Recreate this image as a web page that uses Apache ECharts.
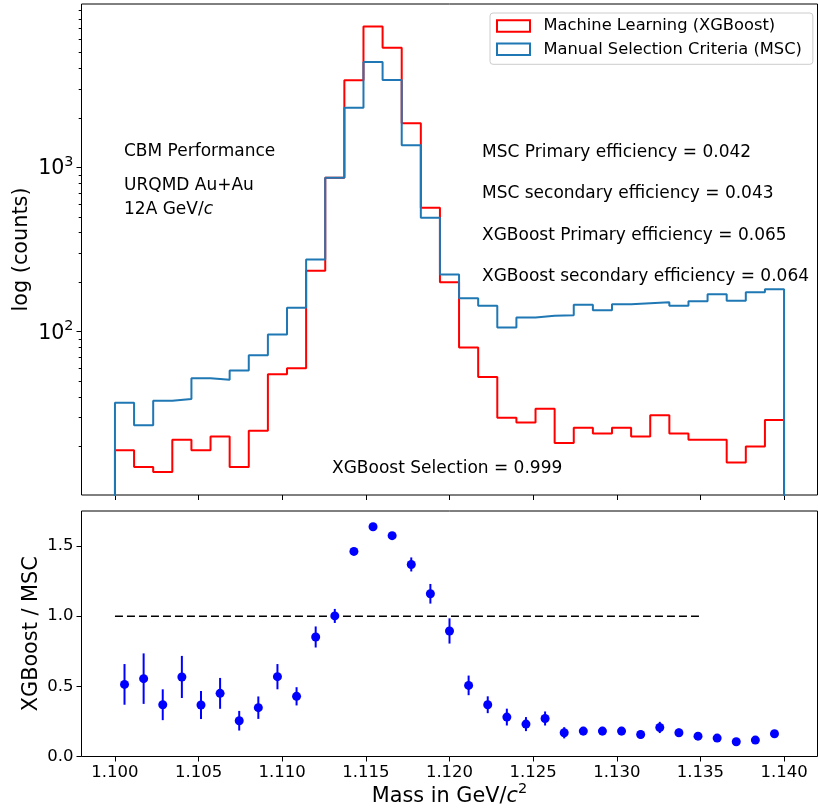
<!DOCTYPE html>
<html>
<head>
<meta charset="utf-8">
<script src="https://cdn.jsdelivr.net/npm/echarts@6/dist/echarts.min.js"></script>
<style>
  html, body { margin: 0; padding: 0; background: #fff; }
  #chart { width: 818px; height: 809px; }
</style>
</head>
<body>
<div id="chart"></div>
<script>
// histogram range and binning
const massMin = 1.100;
const massMax = 1.140;
const nBins = 35;

// counts per bin
const xgbCounts = [19, 15, 14, 22, 19, 23, 15, 25, 55, 60, 235, 864, 3388, 7180, 5345, 1854, 568, 200,
  80, 53, 30, 28, 34, 21, 26, 24, 26, 23, 31, 24, 22, 22, 16, 20, 29];
const mscCounts = [37, 27, 38, 39, 52, 51, 58, 72, 96, 140, 275, 864, 2306, 4375, 3397, 1361, 493, 223,
  160, 144, 106, 122, 125, 126, 146, 135, 147, 149, 151, 144, 153, 169, 154, 174, 181];

// ratio panel
const ratioValues = [0.514, 0.555, 0.369, 0.567, 0.367, 0.45, 0.255, 0.348, 0.569, 0.429, 0.852, 1.002,
  1.462, 1.638, 1.574, 1.369, 1.16, 0.895, 0.507, 0.369, 0.281, 0.231, 0.271, 0.169, 0.181, 0.181,
  0.181, 0.157, 0.207, 0.169, 0.145, 0.131, 0.105, 0.117, 0.162];
const ratioErrors = [0.145, 0.18, 0.11, 0.15, 0.1, 0.11, 0.07, 0.08, 0.09, 0.065, 0.075, 0.05,
  0.025, 0.012, 0.015, 0.05, 0.07, 0.09, 0.07, 0.06, 0.06, 0.05, 0.05, 0.04, 0.03, 0.03,
  0.03, 0.03, 0.04, 0.03, 0.02, 0.02, 0.015, 0.02, 0.025];
const refLine = [[1.100, 1.0], [1.135, 1.0]];

// ticks
const massTicks = [1.100, 1.105, 1.110, 1.115, 1.120, 1.125, 1.130, 1.135, 1.140];
const logMajorTicks = [100, 1000];
const logMajorExp = ['2', '3'];
const logMinorTicks = [20, 30, 40, 50, 60, 70, 80, 90, 200, 300, 400, 500, 600, 700, 800, 900,
  2000, 3000, 4000, 5000, 6000, 7000, 8000, 9000];
const ratioTicks = [0, 0.5, 1.0, 1.5];

const binW = (massMax - massMin) / nBins;

// outline of a step histogram, dropping to the floor at both ends
function stepData(counts) {
  const pts = [[massMin, 1]];
  counts.forEach((c, i) => pts.push([massMin + i * binW, c]));
  pts.push([massMax, counts[counts.length - 1]]);
  pts.push([massMax, 1]);
  return pts;
}

const ratioData = ratioValues.map((v, i) => [massMin + (i + 0.5) * binW, v, ratioErrors[i]]);

const FONT = 'DejaVu Sans';
const tickStyle = { color: '#000', width: 1 };
const txt = { font: '17px "DejaVu Sans"', fill: '#000', textVerticalAlign: 'middle', verticalAlign: 'middle' };

const chart = echarts.init(document.getElementById('chart'));

const option = {
  animation: false,
  backgroundColor: '#fff',
  textStyle: { fontFamily: FONT },
  grid: [
    { left: 81.5, width: 736, top: 4, height: 491, show: true, borderColor: '#000', borderWidth: 1 },
    { left: 81.5, width: 736, top: 511, height: 245.5, show: true, borderColor: '#000', borderWidth: 1 }
  ],
  legend: {
    orient: 'vertical',
    left: 490,
    top: 13,
    padding: [3, 11, 5, 6],
    itemGap: 3.3,
    itemWidth: 33,
    itemHeight: 11.5,
    backgroundColor: 'rgba(255,255,255,0.8)',
    borderColor: '#cccccc',
    borderWidth: 1,
    borderRadius: 3,
    textStyle: { fontFamily: FONT, fontSize: 16.3, color: '#000', lineHeight: 20, padding: [0, 0, 0, 8.5] },
    data: [
      { name: 'Machine Learning (XGBoost)', icon: 'rect',
        itemStyle: { color: 'rgba(0,0,0,0)', borderColor: '#ff0000', borderWidth: 2 } },
      { name: 'Manual Selection Criteria (MSC)', icon: 'rect',
        itemStyle: { color: 'rgba(0,0,0,0)', borderColor: '#1f77b4', borderWidth: 2 } }
    ]
  },
  xAxis: [
    {
      gridIndex: 0, type: 'value', position: 'bottom', min: 1.098, max: 1.142,
      axisLine: { show: false },
      axisTick: { customValues: massTicks, length: 5, lineStyle: tickStyle },
      axisLabel: { show: false },
      splitLine: { show: false }
    },
    {
      gridIndex: 1, type: 'value', position: 'bottom', min: 1.098, max: 1.142,
      axisLine: { show: false },
      axisTick: { customValues: massTicks, length: 5, lineStyle: tickStyle },
      axisLabel: {
        customValues: massTicks, formatter: v => v.toFixed(3),
        fontFamily: FONT, fontSize: 16.5, color: '#000', margin: 8
      },
      splitLine: { show: false },
      name: '{n|Mass in GeV/}{i|c}{s|2}',
      nameLocation: 'middle',
      nameGap: 25,
      nameMoveOverlap: false,
      nameTextStyle: {
        rich: {
          n: { fontFamily: FONT, fontSize: 20.8, color: '#000', lineHeight: 26, verticalAlign: 'bottom' },
          i: { fontFamily: FONT, fontSize: 20.8, fontStyle: 'italic', color: '#000', lineHeight: 26, verticalAlign: 'bottom' },
          s: { fontFamily: FONT, fontSize: 14.5, color: '#000', lineHeight: 26, verticalAlign: 'top' }
        }
      }
    }
  ],
  yAxis: [
    {
      gridIndex: 0, type: 'log', logBase: 10, position: 'left', offset: 0, min: 10.15, max: 9850,
      axisLine: { show: false },
      axisTick: { customValues: logMajorTicks, length: 5, lineStyle: tickStyle },
      axisLabel: {
        customValues: logMajorTicks,
        formatter: v => '{b|10}{s|' + logMajorExp[Math.round(Math.log10(v)) - 2] + '}',
        margin: 8,
        rich: {
          b: { fontFamily: FONT, fontSize: 20.6, color: '#000', lineHeight: 24, verticalAlign: 'bottom' },
          s: { fontFamily: FONT, fontSize: 14.4, color: '#000', lineHeight: 14, verticalAlign: 'top' }
        }
      },
      splitLine: { show: false },
      name: 'log (counts)',
      nameLocation: 'middle',
      nameGap: 49,
      nameMoveOverlap: false,
      nameTextStyle: { fontFamily: FONT, fontSize: 20.8, color: '#000' }
    },
    {
      gridIndex: 0, type: 'log', logBase: 10, position: 'left', offset: 0, min: 10.15, max: 9850,
      axisLine: { show: false },
      axisTick: { customValues: logMinorTicks, length: 2.8, lineStyle: tickStyle },
      axisLabel: { show: false },
      splitLine: { show: false }
    },
    {
      gridIndex: 1, type: 'value', position: 'left', min: 0, max: 1.75,
      axisLine: { show: false },
      axisTick: { customValues: ratioTicks, length: 5, lineStyle: tickStyle },
      axisLabel: {
        customValues: ratioTicks, formatter: v => v.toFixed(1),
        fontFamily: FONT, fontSize: 16.5, color: '#000', margin: 8
      },
      splitLine: { show: false },
      name: 'XGBoost / MSC',
      nameLocation: 'middle',
      nameGap: 39,
      nameMoveOverlap: false,
      nameTextStyle: { fontFamily: FONT, fontSize: 20.8, color: '#000' }
    }
  ],
  series: [
    {
      name: 'Machine Learning (XGBoost)',
      type: 'line', step: 'end', xAxisIndex: 0, yAxisIndex: 0,
      data: stepData(xgbCounts),
      symbol: 'none', showSymbol: false,
      lineStyle: { color: '#ff0000', width: 2 },
      itemStyle: { color: '#ff0000' },
      z: 2
    },
    {
      name: 'Manual Selection Criteria (MSC)',
      type: 'line', step: 'end', xAxisIndex: 0, yAxisIndex: 0,
      data: stepData(mscCounts),
      symbol: 'none', showSymbol: false,
      lineStyle: { color: '#1f77b4', width: 2 },
      itemStyle: { color: '#1f77b4' },
      z: 3
    },
    {
      type: 'line', xAxisIndex: 1, yAxisIndex: 2,
      data: refLine,
      symbol: 'none', showSymbol: false,
      lineStyle: { color: '#000', width: 1.6, type: [8, 4] },
      z: 2
    },
    {
      type: 'custom', xAxisIndex: 1, yAxisIndex: 2,
      data: ratioData,
      renderItem: (params, api) => {
        const x = api.value(0), y = api.value(1), e = api.value(2);
        const p1 = api.coord([x, y - e]);
        const p2 = api.coord([x, y + e]);
        return {
          type: 'line',
          shape: { x1: p1[0], y1: p1[1], x2: p2[0], y2: p2[1] },
          style: { stroke: '#0000ff', lineWidth: 2 }
        };
      },
      z: 3
    },
    {
      type: 'scatter', xAxisIndex: 1, yAxisIndex: 2,
      data: ratioData.map(d => [d[0], d[1]]),
      symbol: 'circle', symbolSize: 9,
      itemStyle: { color: '#0000ff', opacity: 1 },
      z: 4
    }
  ],
  graphic: [
    { type: 'text', x: 124, y: 152, style: Object.assign({ text: 'CBM Performance' }, txt) },
    { type: 'text', x: 124, y: 186, style: Object.assign({ text: 'URQMD Au+Au' }, txt) },
    { type: 'text', x: 124, y: 210, style: Object.assign({
        text: '12A GeV/{i|c}',
        rich: { i: { fontFamily: FONT, fontSize: 17, fontStyle: 'italic', fill: '#000' } } }, txt) },
    { type: 'text', x: 482, y: 152.5, style: Object.assign({ text: 'MSC Primary efficiency = 0.042' }, txt) },
    { type: 'text', x: 482, y: 194, style: Object.assign({ text: 'MSC secondary efficiency = 0.043' }, txt) },
    { type: 'text', x: 482, y: 235.5, style: Object.assign({ text: 'XGBoost Primary efficiency = 0.065' }, txt) },
    { type: 'text', x: 482, y: 277, style: Object.assign({ text: 'XGBoost secondary efficiency = 0.064' }, txt) },
    { type: 'text', x: 332, y: 468.5, style: Object.assign({ text: 'XGBoost Selection = 0.999' }, txt) }
  ]
};

chart.setOption(option);
window.addEventListener('resize', () => chart.resize());
</script>
</body>
</html>
